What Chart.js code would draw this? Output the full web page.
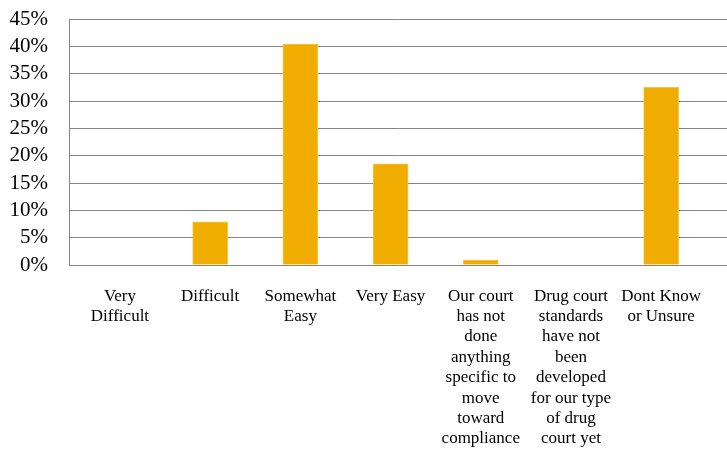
<!DOCTYPE html>
<html>
<head>
<meta charset="utf-8">
<script src="https://cdn.jsdelivr.net/npm/chart.js@4"></script>
<style>
  html, body { margin: 0; padding: 0; background: #fff; }
  #wrap { width: 727px; height: 453px; }
</style>
</head>
<body>
<div id="wrap"><canvas id="easeChart"></canvas></div>
<script>
// answers, values
var categories = [
    ['Very', 'Difficult'],
    ['Difficult'],
    ['Somewhat', 'Easy'],
    ['Very Easy'],
    ['Our court', 'has not', 'done', 'anything', 'specific to', 'move', 'toward', 'compliance'],
    ['Drug court', 'standards', 'have not', 'been', 'developed', 'for our type', 'of drug', 'court yet'],
    ['Dont Know', 'or Unsure']
];
var shares = [0, 0.079, 0.404, 0.185, 0.009, 0, 0.325];
var yTicks = [0, 0.05, 0.10, 0.15, 0.20, 0.25, 0.30, 0.35, 0.40, 0.45];

var gridGrey = '#858585';

document.addEventListener("DOMContentLoaded", function() {
    var ctx = document.getElementById('easeChart').getContext('2d');
    var points = shares.map(function(v, i) { return { x: i, y: v }; });

    var easeChart = new Chart(ctx, {
        type: 'bar',
        data: {
            datasets: [{
                data: points,
                // empty answers leave no sliver on the axis
                backgroundColor: shares.map(function(v) { return v > 0 ? '#f0ad00' : 'rgba(0,0,0,0)'; }),
                borderColor: shares.map(function(v) { return v > 0 ? '#f5c64a' : 'rgba(0,0,0,0)'; }),
                borderWidth: { top: 1, left: 1, right: 1, bottom: 0 },
                barThickness: 35
            }]
        },
        options: {
            responsive: true,
            maintainAspectRatio: false,
            animation: false,
            layout: { padding: { top: 19, right: 0, bottom: 0, left: 0 } },
            plugins: {
                legend: { display: false },
                tooltip: { enabled: false }
            },
            scales: {
                x: {
                    type: 'linear',
                    offset: false,
                    min: -0.565,
                    max: 6.73,
                    afterBuildTicks: function(scale) {
                        scale.ticks = categories.map(function(c, i) { return { value: i }; });
                    },
                    afterFit: function(scale) {
                        scale.height = 188;
                        scale.paddingLeft = 0;
                        scale.paddingRight = 0;
                    },
                    grid: { display: false },
                    border: { display: false },
                    ticks: {
                        autoSkip: false,
                        maxRotation: 0,
                        padding: 13,
                        color: '#000',
                        font: { family: 'Liberation Serif', size: 17, lineHeight: 1.2 },
                        callback: function(v) { return categories[v]; }
                    }
                },
                y: {
                    min: 0,
                    max: 0.45,
                    afterBuildTicks: function(scale) {
                        scale.ticks = yTicks.map(function(v) { return { value: v }; });
                    },
                    afterFit: function(scale) {
                        scale.width = 69;
                        scale.paddingTop = 0;
                        scale.paddingBottom = 0;
                    },
                    grid: { color: gridGrey, drawTicks: false },
                    border: { color: gridGrey },
                    ticks: {
                        autoSkip: false,
                        padding: 21,
                        color: '#000',
                        font: { family: 'Liberation Serif', size: 21 },
                        callback: function(v) { return Math.round(v * 100) + '%'; }
                    }
                }
            }
        }
    });
});
</script>
</body>
</html>
